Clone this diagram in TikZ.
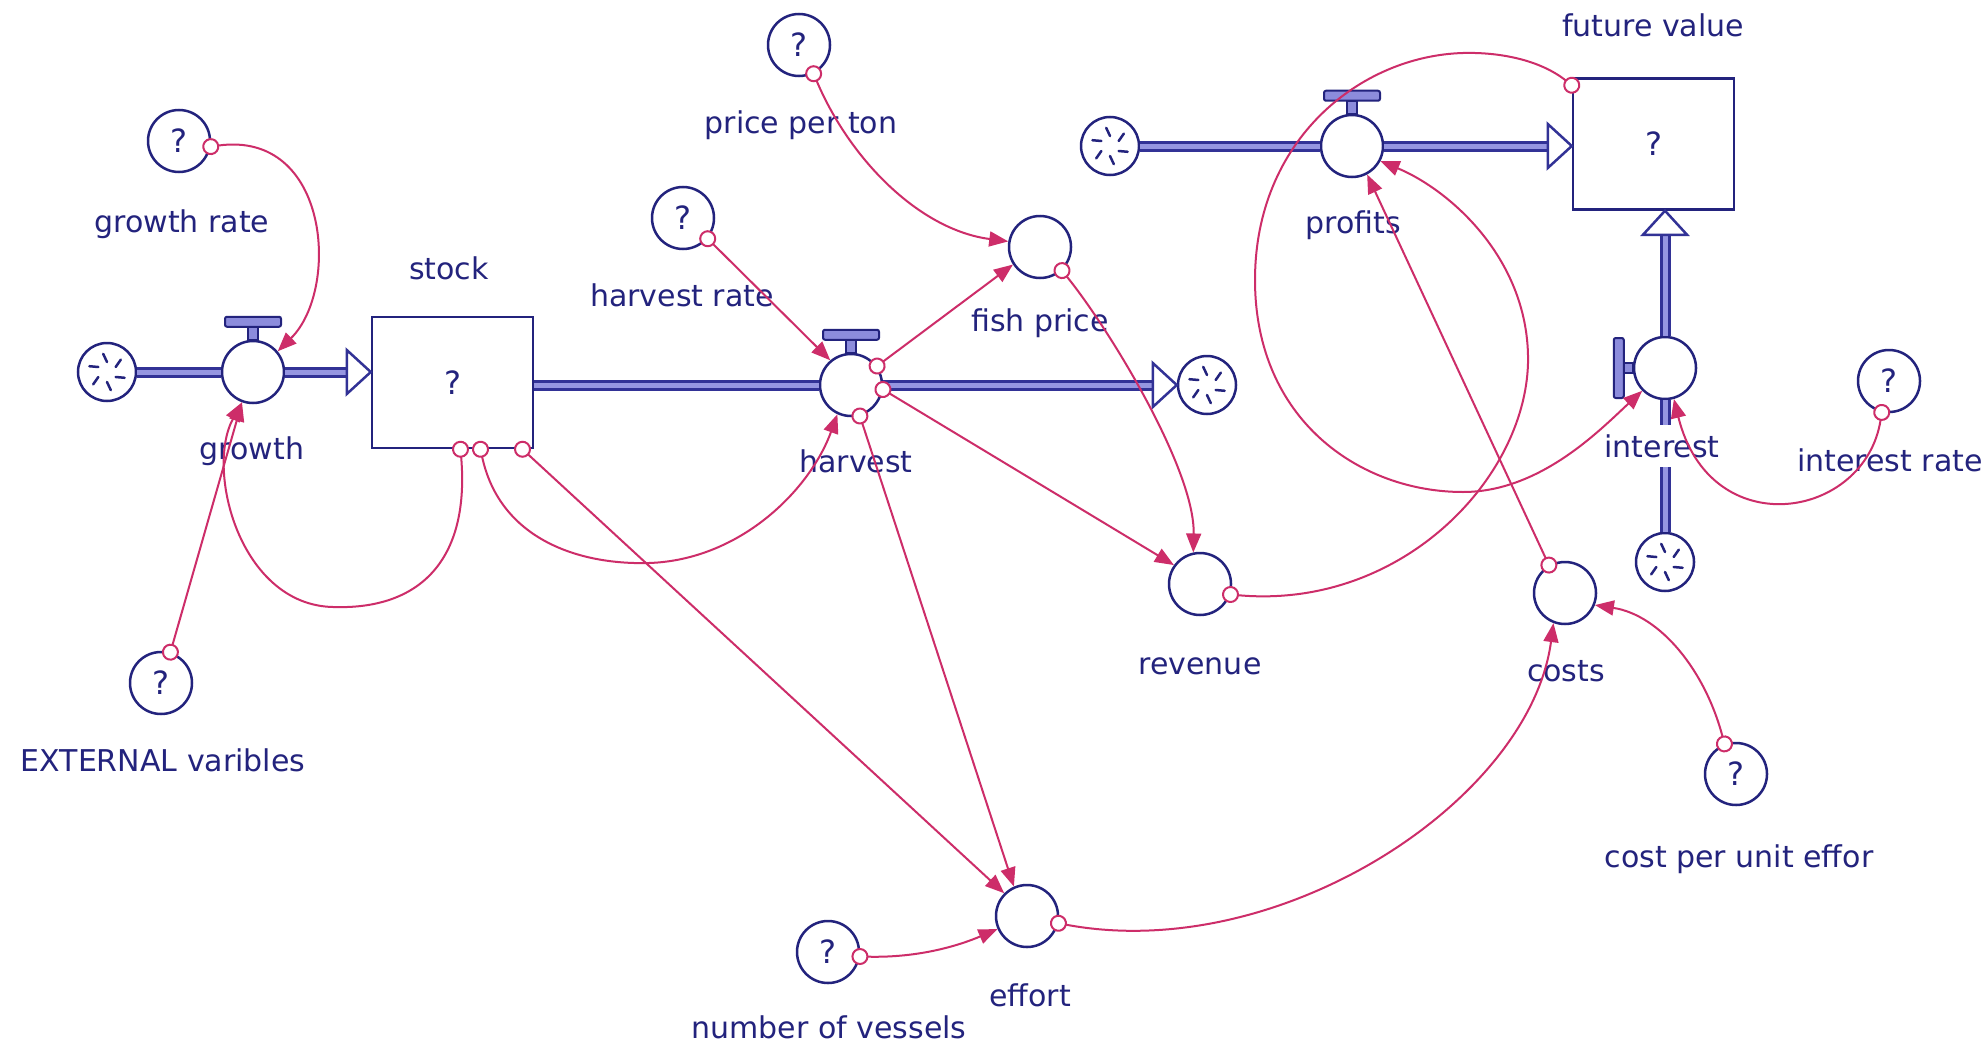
\documentclass[tikz,border=0pt]{standalone}
\usepackage{fontspec}
\setmainfont{DejaVu Sans}
\usetikzlibrary{arrows.meta}
\definecolor{navy}{RGB}{35,35,125}
\definecolor{pipeout}{RGB}{50,50,150}
\definecolor{pipein}{RGB}{150,150,225}
\definecolor{conn}{RGB}{205,45,105}
\definecolor{handlefill}{RGB}{140,140,220}
\newcommand{\lblfont}{\fontsize{30}{36}\selectfont}
\newcommand{\qfont}{\fontsize{32}{36}\selectfont}
\begin{document}
\begin{tikzpicture}[x=1pt,y=-1pt,
  aux/.style={circle, draw=navy, fill=white, line width=2.5pt, minimum size=62pt, inner sep=0pt, font=\qfont, text=navy},
  lbl/.style={font=\lblfont, text=navy, inner sep=1pt, text height=24pt, text depth=2pt},
  cloud/.style={circle, draw=navy, fill=white, line width=2.5pt, minimum size=58pt, inner sep=0pt,
    path picture={\foreach \a in {30,90,150,210,270,330}{\draw[navy, line width=2.5pt, line cap=round] (path picture bounding box.center) ++(\a:10pt) -- ++(\a+25:9pt);}}},
  stockbox/.style={rectangle, draw=navy, fill=white, line width=2.5pt, minimum width=161pt, minimum height=131pt, inner sep=0pt, font=\qfont, text=navy},
  pipe/.style={draw=pipeout, line width=3pt, double=pipein, double distance=5pt},
  pipehead/.style={draw=pipeout, fill=white, line width=2.5pt, line join=miter},
  handle/.style={draw=navy, fill=handlefill, line width=2pt},
  link/.style={draw=conn, line width=2pt, {Circle[fill=white,length=17pt,width=17pt]}-{Triangle[length=19pt,width=15pt]}, shorten <=-8.5pt}]
\useasboundingbox[fill=white] (0,0) rectangle (1985,1046);

% ---- nodes ----
\node[cloud] (srcA) at (107,372) {};
\node[aux] (growth) at (253,372) {};
\node[stockbox] (stock) at (452.5,382.5) {?};
\node[aux] (harvest) at (851,385) {};
\node[cloud] (sinkA) at (1207,385) {};
\node[aux] (growthrate) at (179,141) {?};
\node[aux] (ext) at (161,683) {?};
\node[aux] (hrate) at (683,218) {?};
\node[aux] (ppt) at (799,45) {?};
\node[aux] (fishprice) at (1040,247) {};
\node[aux] (revenue) at (1200,584) {};
\node[cloud] (srcB) at (1110,146) {};
\node[aux] (profits) at (1352,146) {};
\node[stockbox] (fv) at (1653.5,144) {?};
\node[aux] (interest) at (1665,368) {};
\node[aux] (irate) at (1889,381) {?};
\node[cloud] (srcC) at (1665,562) {};
\node[aux] (costs) at (1565,593) {};
\node[aux] (cpue) at (1736,774) {?};
\node[aux] (effort) at (1027,916) {};
\node[aux] (nov) at (828,952) {?};

% ---- pipes ----
\coordinate (sIn) at (growth -| stock.west);
\draw[pipe] (srcA.east) -- (growth.west);
\draw[pipe] (growth.east) -- ([xshift=-22pt]sIn);
\draw[pipehead] (sIn) -- ++(-24,-22) -- ++(0,44) -- cycle;

\coordinate (sOut) at (harvest.west -| stock.east);
\draw[pipe] (sOut) -- (harvest.west);
\draw[pipe] (harvest.east) -- ([xshift=-22pt]sinkA.west);
\draw[pipehead] (sinkA.west) -- ++(-24,-22) -- ++(0,44) -- cycle;

\coordinate (fvIn) at (profits -| fv.west);
\draw[pipe] (srcB.east) -- (profits.west);
\draw[pipe] (profits.east) -- ([xshift=-22pt]fvIn);
\draw[pipehead] (fvIn) -- ++(-24,-22) -- ++(0,44) -- cycle;

\coordinate (fvB) at (interest |- fv.south);
\draw[pipe] (srcC.north) -- (interest.south);
\draw[pipe] (interest.north) -- ([yshift=-22pt]fvB);
\draw[pipehead] (fvB) -- ++(-22,24) -- ++(44,0) -- cycle;

% ---- valve handles ----
\foreach \v in {growth,harvest,profits}{
  \draw[handle] ([xshift=-5pt]\v.north) rectangle ([xshift=5pt,yshift=13pt]\v.north);
  \draw[handle, rounded corners=2pt] ([xshift=-28pt,yshift=13pt]\v.north) rectangle ([xshift=28pt,yshift=23pt]\v.north);
}
\draw[handle] ([yshift=-5pt]interest.west) rectangle ([yshift=5pt,xshift=-9pt]interest.west);
\draw[handle, rounded corners=2pt] ([xshift=-9pt,yshift=-30pt]interest.west) rectangle ([xshift=-19pt,yshift=30pt]interest.west);

% ---- labels ----
\node[lbl] (Lgr) at (182,221) {growth rate};
\node[lbl] (Lstock) at (449,268) {stock};
\node[lbl] (Lgrowth) at (252,448) {growth};
\node[lbl] (Lppt) at (801,123) {price per ton};
\node[lbl] (Lhr) at (682,295) {harvest rate};
\node[lbl] (Lfp) at (1040,320) {fish price};
\node[lbl] (Lharv) at (856,461) {harvest};
\node[lbl] (Lrev) at (1200,663) {revenue};
\node[lbl] (Lprof) at (1353,222) {profits};
\node[lbl] (Lfv) at (1653,26) {future value};
\node[lbl, fill=white, inner ysep=8pt] (Lint) at (1662,446) {interest};
\node[lbl] (Lir) at (1890,460) {interest rate};
\node[lbl] (Lcosts) at (1566,670) {costs};
\node[lbl] (Lcpue) at (1739,856) {cost per unit effor};
\node[lbl] (Leff) at (1030,995) {effort};
\node[lbl] (Lnov) at (829,1027) {number of vessels};
\node[lbl] (Lext) at (163,760) {EXTERNAL varibles};

% ---- connectors ----
\draw[link] (growthrate.-10) .. controls (330,130) and (340,290) .. (growth.40);
\draw[link] (ext.73) -- (growth.-110);
\draw[link] ([xshift=8pt]stock.south) .. controls (470,560) and (420,610) .. (333,607) .. controls (240,605) and (205,470) .. (growth.-110);
\draw[link] ([xshift=28pt]stock.south) .. controls (500,540) and (580,565) .. (649,563) .. controls (740,560) and (810,490) .. (harvest.-115);
\draw[link] ([xshift=70pt]stock.south) -- (effort.135);
\draw[link] (hrate.-40) -- (harvest.130);
\draw[link] (ppt.-63) .. controls (850,160) and (920,230) .. (fishprice.170);
\draw[link] (harvest.36) -- (fishprice.-147);
\draw[link] (fishprice.-47) .. controls (1110,330) and (1195,470) .. (revenue.102);
\draw[link] (harvest.-8) -- (revenue.144);
\draw[link] (harvest.-74) -- (effort.114);
\draw[link] (nov.-8) .. controls (920,958) and (960,945) .. (effort.-156);
\draw[link] (effort.-13) .. controls (1280,965) and (1530,800) .. (costs.-111);
\draw[link] (cpue.111) .. controls (1705,670) and (1660,615) .. (costs.-22);
\draw[link] (costs.120) -- (profits.-62);
\draw[link] (revenue.-19) .. controls (1400,610) and (1525,480) .. (1528,363) .. controls (1530,260) and (1450,190) .. (profits.-28);
\draw[link] ([yshift=-8pt]fv.north west) .. controls (1540,60) and (1500,52) .. (1463,53) .. controls (1360,56) and (1255,140) .. (1255,280) .. controls (1255,420) and (1360,492) .. (1463,492) .. controls (1540,492) and (1600,430) .. (interest.-135);
\draw[link] (irate.-103) .. controls (1865,520) and (1710,545) .. (interest.-74);
\end{tikzpicture}
\end{document}
